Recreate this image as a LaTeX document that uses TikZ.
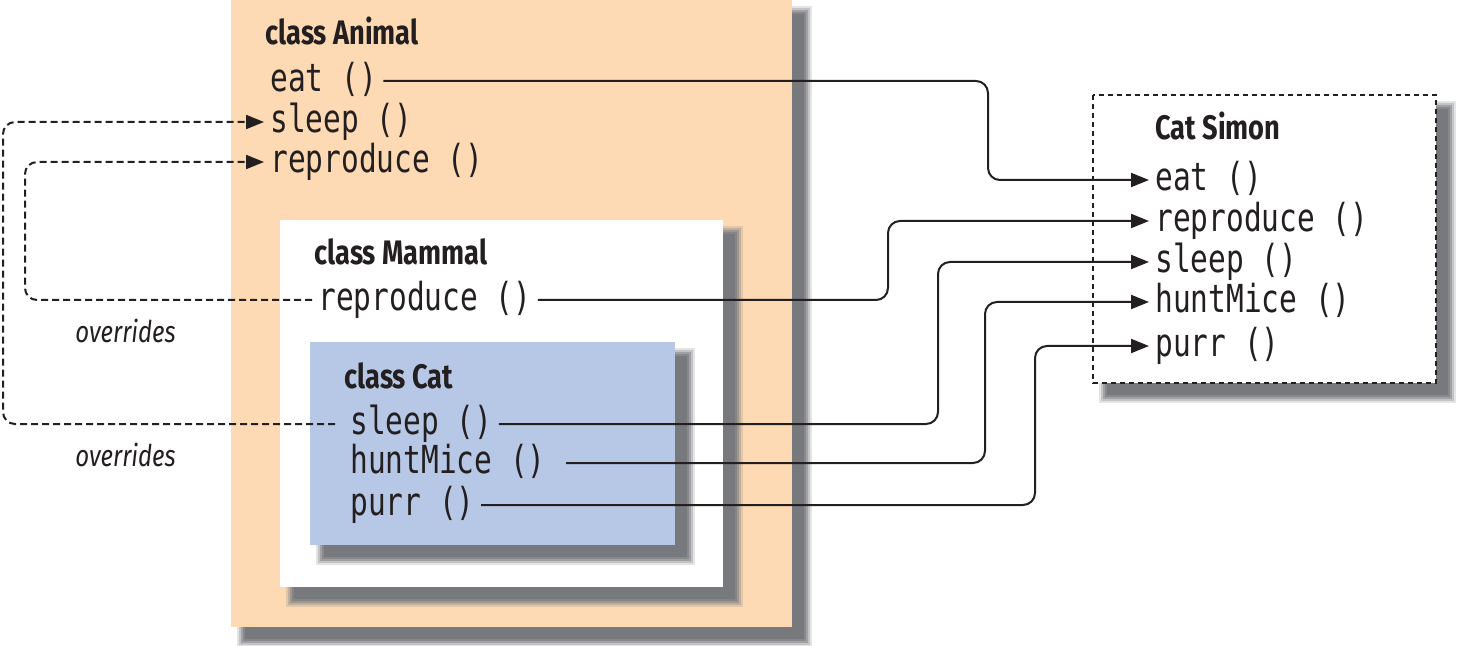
\documentclass[tikz,border=0pt]{standalone}
\usepackage{fontspec}
\setmainfont{Fira Sans}
\newfontfamily\titlefont{Fira Sans}[FakeStretch=0.8]
\newfontfamily\itfont{Fira Sans}[FakeStretch=0.8]
\newfontfamily\monofont{DejaVu Sans Mono}[FakeStretch=0.764]
\usetikzlibrary{arrows.meta,calc}
\definecolor{ink}{RGB}{35,31,32}
\definecolor{animalc}{RGB}{253,218,179}
\definecolor{catc}{RGB}{183,200,230}
\definecolor{shadowc}{RGB}{120,121,125}
\newcommand\dropshadow[4]{%
  \foreach \e/\o in {8/0.2,6/0.3,4/0.45,2/0.6}{%
    \fill[shadowc,opacity=\o] (#1+14-\e,#2+14-\e) rectangle (#3+12+\e,#4+12+\e);}%
  \fill[shadowc] (#1+14,#2+14) rectangle (#3+12,#4+12);}
\tikzset{
  meth/.style={font=\monofont\fontsize{19.3}{21}\selectfont, text=ink, inner sep=3pt,
    text height=10.5pt, text depth=0pt, anchor=west},
  ttl/.style={font=\titlefont\bfseries\fontsize{17}{20}\selectfont, text=ink, inner sep=0pt, anchor=base west},
  ovr/.style={font=\itfont\itshape\fontsize{15}{18}\selectfont, text=ink, inner sep=0pt, anchor=base west},
  conn/.style={line width=1pt, draw=ink, rounded corners=6pt, -{Triangle[length=9pt,width=7pt]}},
  dconn/.style={conn, dash pattern=on 3.5pt off 2pt},
}
\begin{document}
\begin{tikzpicture}[x=0.5pt,y=-0.5pt]
\useasboundingbox (0,0) rectangle (1460,646);
% boxes
\dropshadow{231}{0}{792}{627}
\fill[animalc] (231,0) rectangle (792,627);
\dropshadow{280}{220}{723}{587}
\fill[white] (280,220) rectangle (723,587);
\dropshadow{310}{342}{675}{545}
\fill[catc] (310,342) rectangle (675,545);
\dropshadow{1093}{95}{1436}{383}
\draw[ink, fill=white, line width=1pt, dash pattern=on 2.5pt off 2pt] (1093,95) rectangle (1436,383);
% titles
\node[ttl] (tanimal) at (265,45) {class Animal};
\node[ttl] (tmammal) at (314,265) {class Mammal};
\node[ttl] (tcat) at (344,388) {class Cat};
\node[ttl] (tsimon) at (1155,140) {Cat Simon};
\node[ovr] (ov1) at (75,343) {overrides};
\node[ovr] (ov2) at (75,466) {overrides};
% methods
\node[meth] (aeat) at (264,81) {eat ()};
\node[meth] (asleep) at (264,122) {sleep ()};
\node[meth] (arep) at (264,162) {reproduce ()};
\node[meth] (mrep) at (312,300) {reproduce ()};
\node[meth] (csleep) at (344,424) {sleep ()};
\node[meth] (chunt) at (344,463) {huntMice ()};
\node[meth] (cpurr) at (344,505) {purr ()};
\node[meth] (seat) at (1149,180) {eat ()};
\node[meth] (srep) at (1149,221) {reproduce ()};
\node[meth] (ssleep) at (1149,262) {sleep ()};
\node[meth] (shunt) at (1149,302) {huntMice ()};
\node[meth] (spurr) at (1149,346) {purr ()};
% junctions
\coordinate (j1) at (988,0);
\coordinate (j2) at (888,0);
\coordinate (j3) at (938,0);
\coordinate (j4) at (985,0);
\coordinate (j5) at (1035,0);
\coordinate (d1) at (25,0);
\coordinate (d2) at (3,0);
% connectors
\draw[conn] (aeat.east) -- (aeat.east -| j1) |- (seat.west);
\draw[conn] (mrep.east) -- (mrep.east -| j2) |- (srep.west);
\draw[conn] (csleep.east) -- (csleep.east -| j3) |- (ssleep.west);
\draw[conn, shorten <=7pt] (chunt.east) -- (chunt.east -| j4) |- (shunt.west);
\draw[conn] (cpurr.east) -- (cpurr.east -| j5) |- (spurr.west);
\draw[dconn] (mrep.west) -- (mrep.west -| d1) |- (arep.west);
\draw[dconn, shorten <=4.5pt] (csleep.west) -- (csleep.west -| d2) |- (asleep.west);
\end{tikzpicture}
\end{document}
